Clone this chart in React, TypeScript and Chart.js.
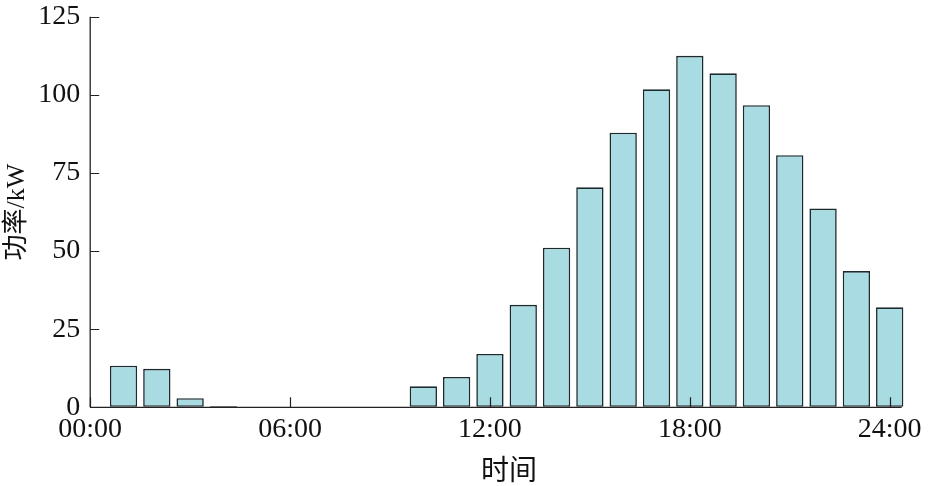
import React, { useEffect, useRef } from "react";
import { Chart, registerables } from "chart.js";

Chart.register(...registerables);

const hours = [1, 2, 3, 4, 5, 6, 7, 8, 9, 10, 11, 12, 13, 14, 15, 16, 17, 18, 19, 20, 21, 22, 23, 24];
const power = [13.3, 12.3, 2.9, 0.4, 0, 0, 0, 0, 0, 6.7, 9.7, 17.1, 32.8, 51.1, 70.4, 87.9, 101.8, 112.5, 106.9, 96.7, 80.7, 63.6, 43.6, 32.0];
const xTickValues = [0, 6, 12, 18, 24];
const xTickLabels = ["00:00", "06:00", "12:00", "18:00", "24:00"];
const yTickValues = [0, 25, 50, 75, 100, 125];
const xAxisEnd = 24.36;

const FONT = "'Liberation Serif', 'Times New Roman', 'Noto Sans CJK SC', serif";

const axesPlugin = {
  id: "inwardAxes",
  afterDatasetsDraw(chart: any) {
    const { ctx, scales } = chart;
    const xs = scales.x;
    const ys = scales.y;
    const y0 = ys.getPixelForValue(0);
    const x0 = xs.getPixelForValue(0);
    ctx.save();
    ctx.strokeStyle = "#222";
    ctx.lineWidth = 1.3;
    ctx.beginPath();
    ctx.moveTo(x0, y0);
    ctx.lineTo(xs.getPixelForValue(xAxisEnd), y0);
    ctx.moveTo(x0, y0);
    ctx.lineTo(x0, ys.getPixelForValue(125));
    ctx.stroke();
    ctx.lineWidth = 1.2;
    ctx.beginPath();
    for (const v of xTickValues) {
      const px = Math.round(xs.getPixelForValue(v)) + 0.5;
      ctx.moveTo(px, y0);
      ctx.lineTo(px, y0 - 10);
    }
    for (const v of yTickValues) {
      const py = Math.round(ys.getPixelForValue(v)) + 0.5;
      ctx.moveTo(x0, py);
      ctx.lineTo(x0 + 9, py);
    }
    ctx.stroke();
    ctx.restore();
  },
};

export default function App() {
  const ref = useRef<HTMLCanvasElement | null>(null);
  useEffect(() => {
    if (!ref.current) return;
    const chart = new Chart(ref.current, {
      type: "bar",
      data: {
        datasets: [
          {
            data: hours.map((h, i) => ({ x: h, y: power[i] })),
            backgroundColor: "#a8dce2",
            borderColor: "#1c2a2e",
            borderWidth: 1.6,
            barPercentage: 0.82,
            categoryPercentage: 1,
            borderSkipped: false,
          },
        ],
      },
      options: {
        animation: false,
        responsive: false,
        maintainAspectRatio: false,
        layout: { padding: { left: 0, right: 0, top: 0, bottom: -3 } },
        plugins: { legend: { display: false }, tooltip: { enabled: false } },
        scales: {
          x: {
            type: "linear",
            offset: false,
            min: 0,
            max: 25.15,
            afterBuildTicks: (scale: any) => {
              scale.ticks = xTickValues.map((v) => ({ value: v }));
            },
            ticks: {
              autoSkip: false,
              maxRotation: 0,
              padding: 6,
              color: "#111",
              font: { family: FONT, size: 28 },
              callback: (v: any) => {
                const i = xTickValues.indexOf(Number(v));
                return i >= 0 ? xTickLabels[i] : "";
              },
            },
            grid: { display: false, drawTicks: false },
            border: { display: false },
            title: {
              display: true,
              text: "时间",
              color: "#111",
              font: { family: FONT, size: 28 },
              padding: { top: 2.5, bottom: 0 },
            },
          },
          y: {
            min: 0,
            max: 125,
            afterBuildTicks: (scale: any) => {
              scale.ticks = yTickValues.map((v) => ({ value: v }));
            },
            ticks: {
              padding: 0,
              color: "#111",
              font: { family: FONT, size: 28 },
            },
            grid: {
              display: true,
              drawOnChartArea: false,
              drawTicks: true,
              tickLength: 10,
              color: "rgba(0,0,0,0)",
            },
            border: { display: false },
            title: {
              display: true,
              text: "功率/kW",
              color: "#111",
              font: { family: FONT, size: 26 },
              padding: { top: 2, bottom: 5 },
            },
          },
        },
      },
      plugins: [axesPlugin],
    });
    return () => chart.destroy();
  }, []);
  return (
    <div style={{ position: "fixed", left: 0, top: 0, width: 928, height: 486, background: "#fff" }}>
      <canvas ref={ref} width={928} height={486} style={{ display: "block" }} />
    </div>
  );
}
